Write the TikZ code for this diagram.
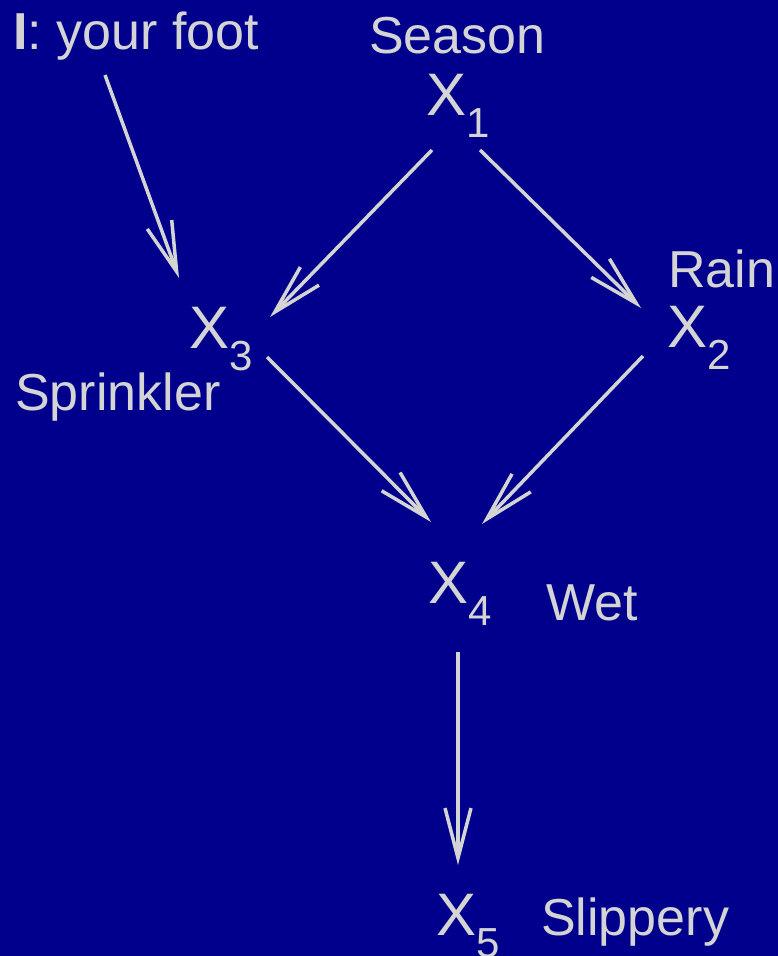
\documentclass[tikz,border=0pt]{standalone}
\usepackage{fontspec}
\setmainfont{Liberation Sans}
\usetikzlibrary{arrows.meta}
\definecolor{bgblue}{RGB}{0,0,140}
\definecolor{fg}{RGB}{212,212,212}
\newcommand{\Xsub}[1]{X\raisebox{-22pt}{\fontsize{42}{42}\selectfont #1}}
\tikzset{
  lbl/.style={anchor=base west, inner sep=0pt, text=fg, font=\fontsize{52}{52}\selectfont},
  var/.style={anchor=base west, inner sep=0pt, text=fg, font=\fontsize{60}{60}\selectfont},
  edge/.style={draw=fg, line width=3.5pt, -{Straight Barb[length=50pt, width=26pt, line width=3.5pt]}}
}
\begin{document}
\begin{tikzpicture}[x=1pt,y=-1pt]
\fill[bgblue] (0,0) rectangle (778,956);
\useasboundingbox (0,0) rectangle (778,956);
% labels
\node[lbl] (foot) at (13,49) {\textbf{I}: your foot};
\node[lbl] (season) at (369,53) {Season};
\node[lbl] (rain) at (668,287) {Rain};
\node[lbl] (sprinkler) at (15,410) {Sprinkler};
\node[lbl] (wet) at (546,620) {Wet};
\node[lbl] (slippery) at (541,935) {Slippery};
% variables
\node[var] (x1) at (426,115) {\Xsub{1}};
\node[var] (x2) at (667,347) {\Xsub{2}};
\node[var] (x3) at (189,348) {\Xsub{3}};
\node[var] (x4) at (428,603) {\Xsub{4}};
\node[var] (x5) at (436,935) {\Xsub{5}};
% arrow ends
\coordinate (footS) at (105,75);
\coordinate (x3N) at (179,278);
\coordinate (x1SW) at (432,150);
\coordinate (x3NE) at (270,317);
\coordinate (x1SE) at (480,150);
\coordinate (x2NW) at (641,308);
\coordinate (x3SE) at (267,357);
\coordinate (x4NW) at (431,522);
\coordinate (x2SW) at (643,356);
\coordinate (x4NE) at (482,524);
\coordinate (x4S) at (458,652);
\coordinate (x5N) at (458,865);
\draw[edge] (footS) -- (x3N);
\draw[edge] (x1SW) -- (x3NE);
\draw[edge] (x1SE) -- (x2NW);
\draw[edge] (x3SE) -- (x4NW);
\draw[edge] (x2SW) -- (x4NE);
\draw[edge] (x4S) -- (x5N);
\end{tikzpicture}
\end{document}
